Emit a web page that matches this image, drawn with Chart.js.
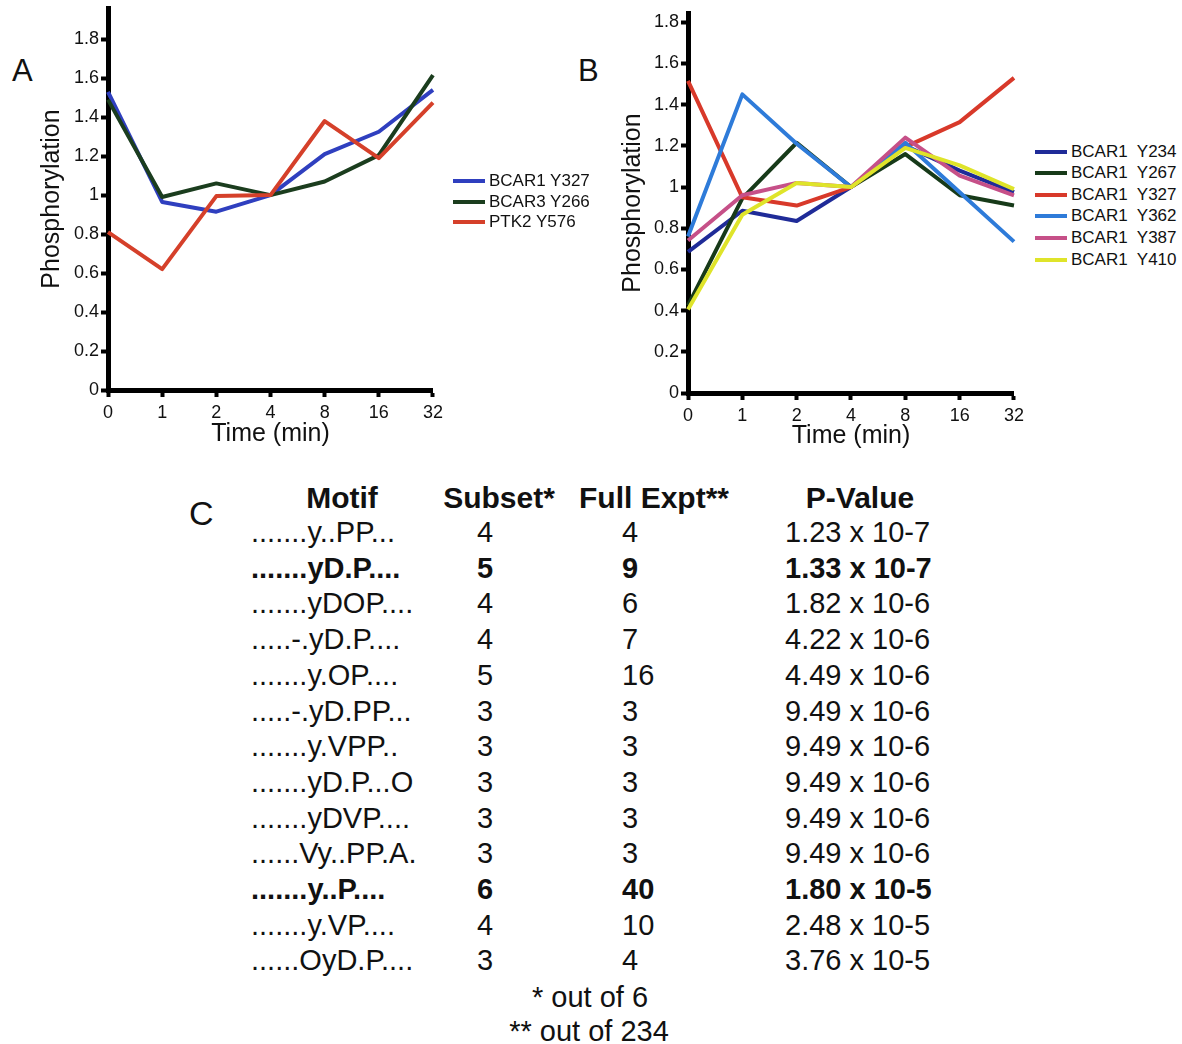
<!DOCTYPE html>
<html>
<head>
<meta charset="utf-8">
<script src="https://cdn.jsdelivr.net/npm/chart.js@4.4.1/dist/chart.umd.min.js"></script>
<style>
  body { margin: 0; background: #fff; width: 1182px; height: 1044px; position: relative; overflow: hidden;
         font-family: "Liberation Sans", Arial, sans-serif; color: #111; }
  canvas { position: absolute; }
  .abs { position: absolute; white-space: nowrap; }
  .letra { font-size: 31px; line-height: 30px; }
  .leg-linha { position: absolute; height: 4px; width: 32px; }
  .leg-texto { position: absolute; font-size: 17px; line-height: 20px; }
  .tab { font-size: 29px; line-height: 34px; }
  .cab { font-size: 30px; line-height: 34px; font-weight: bold; }
  .negrito { font-weight: bold; }
</style>
</head>
<body>
<div class="abs letra" style="left:12px;top:56px">A</div>
<div class="abs letra" style="left:578px;top:56px">B</div>
<div class="abs letra" style="left:189px;top:496px;font-size:34px;line-height:34px">C</div>

<canvas id="graficoA" width="448" height="453" style="left:0;top:-3px"></canvas>
<canvas id="graficoB" width="449" height="451" style="left:580px;top:2px"></canvas>

<div id="legendaA"></div>
<div id="legendaB"></div>
<div id="tabela"></div>

<script>
// Eixo x: tempos de estímulo (min)
const tempos = ['0', '1', '2', '4', '8', '16', '32'];

// Painel A
const bcar1Y327A = [1.53, 0.965, 0.915, 1.0, 1.21, 1.325, 1.54];
const bcar3Y266 = [1.49, 0.99, 1.06, 1.0, 1.07, 1.205, 1.615];
const ptk2Y576 = [0.81, 0.62, 0.995, 1.0, 1.38, 1.19, 1.475];

// Painel B
const bcar1Y234 = [0.685, 0.885, 0.835, 1.0, 1.2, 1.08, 0.975];
const bcar1Y267 = [0.425, 0.945, 1.215, 1.0, 1.16, 0.96, 0.91];
const bcar1Y327B = [1.515, 0.95, 0.91, 1.0, 1.195, 1.315, 1.53];
const bcar1Y362 = [0.76, 1.45, 1.21, 1.0, 1.215, 0.975, 0.735];
const bcar1Y387 = [0.74, 0.96, 1.02, 1.0, 1.24, 1.055, 0.96];
const bcar1Y410 = [0.405, 0.865, 1.02, 1.0, 1.19, 1.105, 0.99];

// Tabela C
const motivos = ['.......y..PP...', '.......yD.P....', '.......yDOP....', '.....-.yD.P....',
  '.......y.OP....', '.....-.yD.PP...', '.......y.VPP..', '.......yD.P...O', '.......yDVP....',
  '......Vy..PP.A.', '.......y..P....', '.......y.VP....', '......OyD.P....'];
const subconjunto = [4, 5, 4, 4, 5, 3, 3, 3, 3, 3, 6, 4, 3];
const experimentoCompleto = [4, 9, 6, 7, 16, 3, 3, 3, 3, 3, 40, 10, 4];
const valoresP = ['1.23 x 10-7', '1.33 x 10-7', '1.82 x 10-6', '4.22 x 10-6', '4.49 x 10-6',
  '9.49 x 10-6', '9.49 x 10-6', '9.49 x 10-6', '9.49 x 10-6', '9.49 x 10-6', '1.80 x 10-5',
  '2.48 x 10-5', '3.76 x 10-5'];
const linhasNegrito = [1, 10];

const seriesA = [
  { nome: 'BCAR1 Y327', valores: bcar1Y327A, cor: '#2f3fbf' },
  { nome: 'BCAR3 Y266', valores: bcar3Y266, cor: '#1b3d1e' },
  { nome: 'PTK2 Y576', valores: ptk2Y576, cor: '#d5402a' },
];

const seriesB = [
  { nome: 'BCAR1  Y234', valores: bcar1Y234, cor: '#1f2b98' },
  { nome: 'BCAR1  Y267', valores: bcar1Y267, cor: '#173a19' },
  { nome: 'BCAR1  Y327', valores: bcar1Y327B, cor: '#d8392a' },
  { nome: 'BCAR1  Y362', valores: bcar1Y362, cor: '#2e7bd9' },
  { nome: 'BCAR1  Y387', valores: bcar1Y387, cor: '#c65088' },
  { nome: 'BCAR1  Y410', valores: bcar1Y410, cor: '#dfe42a' },
];

Chart.defaults.font.family = '"Liberation Sans", Arial, sans-serif';
Chart.defaults.color = '#111';

/**
 * Cria um gráfico de linhas de fosforilação.
 */
function criarGrafico(id, series, yMax, tituloY, tituloX) {
  const n = series.length;
  return new Chart(document.getElementById(id), {
    type: 'line',
    data: {
      labels: tempos,
      datasets: series.map((s, i) => ({
        label: s.nome,
        data: s.valores,
        borderColor: s.cor,
        backgroundColor: s.cor,
        borderWidth: 4,
        borderJoinStyle: 'round',
        pointRadius: 0,
        tension: 0,
        order: n - i, // último da legenda fica por cima
      })),
    },
    options: {
      responsive: false,
      animation: false,
      layout: { padding: { right: 14 } },
      plugins: { legend: { display: false }, tooltip: { enabled: false } },
      scales: {
        x: {
          z: 1,
          offset: false,
          afterFit: (s) => { s.height = 60; },
          ticks: { font: { size: 18 }, padding: 5, maxRotation: 0, autoSkip: false },
          grid: { drawOnChartArea: false, drawTicks: true, tickLength: 7, tickWidth: 4, tickColor: '#000' },
          border: { display: true, width: 5, color: '#000' },
          title: { display: true, text: 'Time (min)', font: { size: 25 }, padding: { top: 0, bottom: tituloX } },
        },
        y: {
          z: 1,
          min: 0,
          max: yMax,
          afterFit: (s) => { s.width = 108; },
          ticks: {
            stepSize: 0.2,
            includeBounds: false,
            padding: 2,
            font: { size: 18, lineHeight: 1 },
            callback: (v) => String(+v.toFixed(1)),
          },
          grid: { drawOnChartArea: false, drawTicks: true, tickLength: 7, tickWidth: 4, tickColor: '#000' },
          border: { display: true, width: 5, color: '#000' },
          title: { display: true, text: 'Phosphorylation', font: { size: 25 }, padding: { top: tituloY, bottom: 0 } },
        },
      },
    },
  });
}

/**
 * Monta a legenda ao lado do gráfico.
 */
function criarLegenda(id, series, x, yCentro, passo) {
  const el = document.getElementById(id);
  series.forEach((s, i) => {
    const cy = yCentro + i * passo;
    const linha = document.createElement('div');
    linha.className = 'leg-linha';
    linha.style.cssText = `left:${x}px;top:${cy - 2}px;background:${s.cor}`;
    const texto = document.createElement('div');
    texto.className = 'leg-texto';
    texto.style.cssText = `left:${x + 36}px;top:${cy - 10}px`;
    texto.textContent = s.nome;
    texto.style.whiteSpace = 'pre';
    el.appendChild(linha);
    el.appendChild(texto);
  });
}

function celula(pai, texto, classe, css) {
  const d = document.createElement('div');
  d.className = 'abs ' + classe;
  d.style.cssText = css;
  d.textContent = texto;
  pai.appendChild(d);
  return d;
}

/**
 * Monta a tabela de motivos (painel C).
 */
function criarTabela() {
  const el = document.getElementById('tabela');
  const meia = 17;
  const centro = (x) => `left:${x - 200}px;width:400px;text-align:center;`;
  celula(el, 'Motif', 'cab', centro(342) + `top:${498 - meia}px`);
  celula(el, 'Subset*', 'cab', centro(499) + `top:${498 - meia}px`);
  celula(el, 'Full Expt**', 'cab', centro(654) + `top:${498 - meia}px`);
  celula(el, 'P-Value', 'cab', centro(860) + `top:${498 - meia}px`);

  motivos.forEach((m, i) => {
    const cy = 532 + i * 35.7;
    const extra = linhasNegrito.includes(i) ? ' negrito' : '';
    celula(el, m, 'tab' + extra, `left:251px;top:${cy - meia}px`);
    celula(el, String(subconjunto[i]), 'tab' + extra, centro(485) + `top:${cy - meia}px`);
    celula(el, String(experimentoCompleto[i]), 'tab' + extra, `left:622px;top:${cy - meia}px`);
    celula(el, valoresP[i], 'tab' + extra, `left:785px;top:${cy - meia}px`);
  });

  celula(el, '* out of 6', 'tab', centro(590) + `top:${997 - meia}px`);
  celula(el, '** out of 234', 'tab', centro(589) + `top:${1031 - meia}px`);
}

criarGrafico('graficoA', seriesA, 1.96, 37, 1);
criarGrafico('graficoB', seriesB, 1.845, 38, 2);
criarLegenda('legendaA', seriesA, 453, 181, 20.5);
criarLegenda('legendaB', seriesB, 1035, 151.5, 21.6);
criarTabela();
</script>
</body>
</html>
